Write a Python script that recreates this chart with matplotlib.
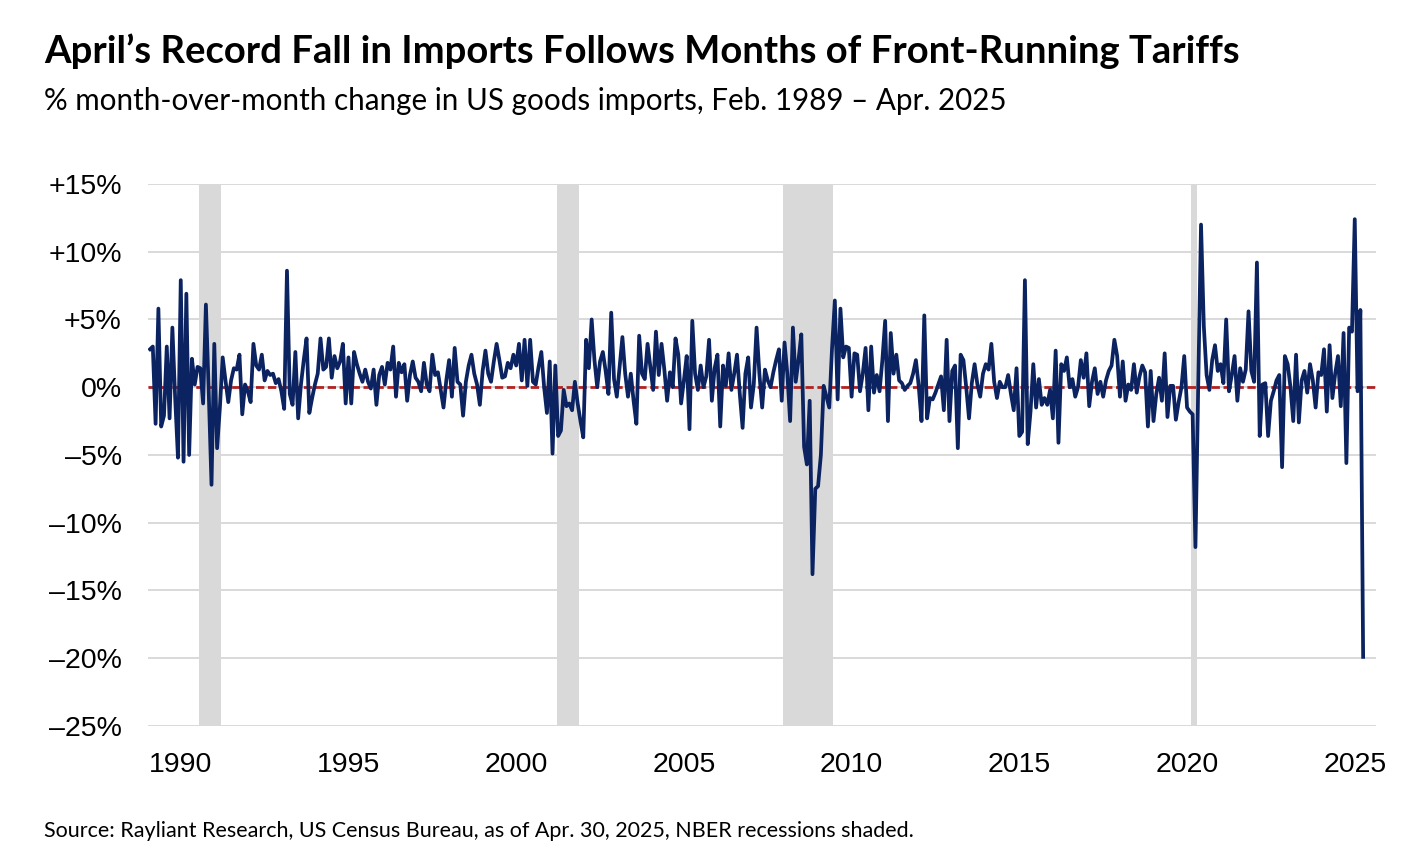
import matplotlib
matplotlib.use("Agg")
import matplotlib.pyplot as plt
import numpy as np

# % month-over-month change in US goods imports, one list per calendar year
# (1989 starts in February, 2025 ends in April)
y1989 = [2.8, 3.0, -2.7, 5.8, -2.9, -2.1, 3.0, -2.3, 4.4, -0.8, -5.2]
y1990 = [7.9, -5.5, 6.9, -5.0, 2.1, 0.2, 1.5, 1.4, -1.2, 6.1, -0.3, -7.2]
y1991 = [3.2, -4.5, -1.5, 2.2, 0.5, -1.1, 0.5, 1.4, 1.3, 2.4, -2.0, 0.2]
y1992 = [-0.3, -1.1, 3.2, 1.6, 1.3, 2.4, 0.5, 1.2, 0.9, 1.0, 0.3, 0.6]
y1993 = [-0.3, -1.6, 8.6, -0.5, -1.3, 2.6, -2.3, 0.2, 2.0, 3.6, -1.9, -0.8]
y1994 = [0.2, 1.0, 3.6, 1.3, 1.5, 3.6, 0.7, 2.3, 1.4, 1.9, 3.2, -1.2]
y1995 = [2.2, -1.2, 2.6, 1.7, 1.0, 0.4, 1.3, 0.4, -0.1, 1.3, -1.3, 0.9]
y1996 = [1.5, 0.2, 1.8, 1.3, 3.0, -0.7, 1.8, 1.1, 1.7, -1.0, 0.9, 1.9]
y1997 = [0.7, 0.4, -0.3, 1.8, 0.2, -0.3, 2.4, 0.9, 1.1, -0.2, -1.5, 0.5]
y1998 = [2.0, -0.7, 2.9, 0.4, 0.2, -2.1, 0.4, 1.6, 2.4, 1.0, 0.2, -1.3]
y1999 = [1.2, 2.7, 1.0, 0.4, 1.9, 3.2, 2.0, 0.7, 0.8, 1.8, 1.4, 2.4]
y2000 = [1.6, 3.2, 0.5, 3.5, 0.1, 3.5, 0.4, 0.2, 1.5, 2.6, 0.0, -1.9]
y2001 = [1.9, -4.9, 1.6, -3.6, -3.2, -0.2, -1.4, -1.2, -1.7, 0.4, -1.2, -2.5]
y2002 = [-3.7, 3.5, 1.4, 5.0, 2.0, 0.0, 1.9, 2.6, 1.2, -0.5, 5.5, 0.6]
y2003 = [-0.7, 1.5, 3.7, 1.0, -0.7, 1.0, -1.0, -2.7, 3.8, 1.0, 0.6, 3.2]
y2004 = [1.5, -0.2, 4.1, 0.9, 3.2, 1.3, -1.0, 1.1, 0.0, 3.6, 2.4, -1.2]
y2005 = [0.5, 2.3, -3.1, 4.9, 1.0, -0.2, 1.6, 0.0, 0.8, 3.5, -1.0, 1.4]
y2006 = [2.4, -2.9, 1.6, 0.1, 2.5, -0.2, 1.0, 2.4, -0.5, -3.0, 1.0, 2.2]
y2007 = [-1.5, 0.2, 4.4, 1.0, -1.5, 1.3, 0.5, 0.0, 1.1, 2.0, 2.8, -1.0]
y2008 = [3.3, 1.0, -2.5, 4.4, 0.4, 2.0, 3.9, -4.4, -5.7, -1.0, -13.8, -7.5]
y2009 = [-7.3, -5.0, 0.1, -0.7, -1.5, 2.9, 6.4, -0.9, 5.8, 2.2, 3.0, 2.9]
y2010 = [-0.7, 2.5, 2.4, -0.3, 1.0, 2.9, -1.7, 3.0, -0.4, 0.9, -0.3, 2.0]
y2011 = [4.9, -2.5, 4.0, 1.0, 2.4, 0.5, 0.3, -0.2, 0.1, 0.3, 1.0, 2.0]
y2012 = [0.1, -2.5, 5.3, -2.3, -0.8, -0.9, -0.4, 0.2, 0.8, -1.7, 3.5, -2.5]
y2013 = [1.2, 1.6, -4.5, 2.4, 2.0, 0.0, -2.3, 0.3, 1.7, 0.2, -0.7, 1.0]
y2014 = [1.7, 1.3, 3.2, 0.4, -0.8, 0.4, 0.0, 0.0, 0.9, -0.5, -1.7, 1.4]
y2015 = [-3.6, -3.3, 7.9, -4.2, -1.8, 1.7, -1.5, 0.6, -1.3, -0.8, -1.3, -0.2]
y2016 = [-2.3, 2.7, -4.1, 1.7, 1.2, 2.2, 0.0, 0.6, -0.7, 0.0, 2.0, 0.7]
y2017 = [2.5, -1.4, 0.4, 1.4, -0.5, 0.4, -0.7, 0.5, 1.2, 1.6, 3.5, 2.3]
y2018 = [-0.7, 1.9, -1.0, 0.2, -0.2, 1.7, -0.4, 0.8, 1.6, 1.1, -2.9, 1.2]
y2019 = [-2.5, -0.5, 0.7, -1.0, 2.5, -2.2, 0.1, 0.1, -2.4, -1.1, 0.0, 2.3]
y2020 = [-1.5, -1.8, -2.0, -11.8, 0.0, 12.0, 4.5, 0.9, -0.2, 2.0, 3.1, 1.2]
y2021 = [1.7, 0.3, 5.0, -0.3, 0.9, 2.3, -1.0, 1.4, 0.4, 1.3, 5.6, 1.2]
y2022 = [0.4, 9.2, -3.6, 0.2, 0.3, -3.6, -1.0, -0.3, 0.5, 0.9, -5.9, 2.3]
y2023 = [1.7, 0.0, -2.5, 2.4, -2.6, 0.5, 1.2, -0.4, 1.7, 0.5, -1.5, 1.1]
y2024 = [0.9, 2.8, -1.8, 3.1, -0.8, 1.0, 2.3, -1.4, 4.0, -5.6, 4.4, 4.1]
y2025 = [12.4, -0.3, 5.7, -19.9]

years = [y1989, y1990, y1991, y1992, y1993, y1994, y1995, y1996, y1997,
         y1998, y1999, y2000, y2001, y2002, y2003, y2004, y2005, y2006,
         y2007, y2008, y2009, y2010, y2011, y2012, y2013, y2014, y2015,
         y2016, y2017, y2018, y2019, y2020, y2021, y2022, y2023, y2024,
         y2025]
change = np.concatenate(years)

# NBER recessions (peak month, trough month) as (year, month)
recessions = [((1990, 7), (1991, 3)),
              ((2001, 3), (2001, 11)),
              ((2007, 12), (2009, 6)),
              ((2020, 2), (2020, 4))]

yticks = [15, 10, 5, 0, -5, -10, -15, -20, -25]
ytick_labels = ["+15%", "+10%", "+5%", "0%", "\u20135%", "\u201310%",
                "\u201315%", "\u201320%", "\u201325%"]
xtick_years = [1990, 1995, 2000, 2005, 2010, 2015, 2020, 2025]

# decimal-year position of each month, starting Feb 1989
t = 1989 + 1 / 12 + np.arange(len(change)) / 12


def dec(ym):
    return ym[0] + (ym[1] - 1) / 12


navy = "#0b2360"
grid_grey = "#d9d9d9"

fig = plt.figure(figsize=(14.26, 8.56), dpi=100)
ax = fig.add_axes([0.1038, 0.1519, 0.8612, 0.6332])

for start, end in recessions:
    ax.axvspan(dec(start) + 1 / 24, dec(end) + 1 / 24, color=grid_grey,
               lw=0, zorder=1)

for v in yticks:
    ax.axhline(v, color=grid_grey, lw=1.4, zorder=0.5)

ax.axhline(0, color="#b22222", lw=2, ls=(0, (3, 1.3)), zorder=2)
ax.plot(t, change, color=navy, lw=2.7, zorder=3, solid_joinstyle="round")

ax.set_xlim(1989.024, 2025.636)
ax.set_ylim(-25, 15)
ax.set_yticks(yticks)
ax.set_yticklabels(ytick_labels)
ax.set_xticks(xtick_years)
ax.set_xticklabels([str(y) for y in xtick_years])
ax.tick_params(length=0, labelsize=20.5)
ax.tick_params(axis="y", pad=19)
ax.tick_params(axis="x", pad=19)
for lab in ax.get_xticklabels() + ax.get_yticklabels():
    lab.set_fontfamily("Liberation Sans")
for s in ax.spines.values():
    s.set_visible(False)

fig.text(0.0309, 0.926,
         "April\u2019s Record Fall in Imports Follows Months of Front-Running Tariffs",
         fontsize=27.5, fontweight="bold", family="Lato", va="baseline")
fig.text(0.0309, 0.8715,
         "% month-over-month change in US goods imports, Feb. 1989 \u2013 Apr. 2025",
         fontsize=21.3, family="Lato", va="baseline")
fig.text(0.0309, 0.022,
         "Source: Rayliant Research, US Census Bureau, as of Apr. 30, 2025, NBER recessions shaded.",
         fontsize=15.5, family="Lato", va="baseline")

fig.savefig("out.png", dpi=100)
